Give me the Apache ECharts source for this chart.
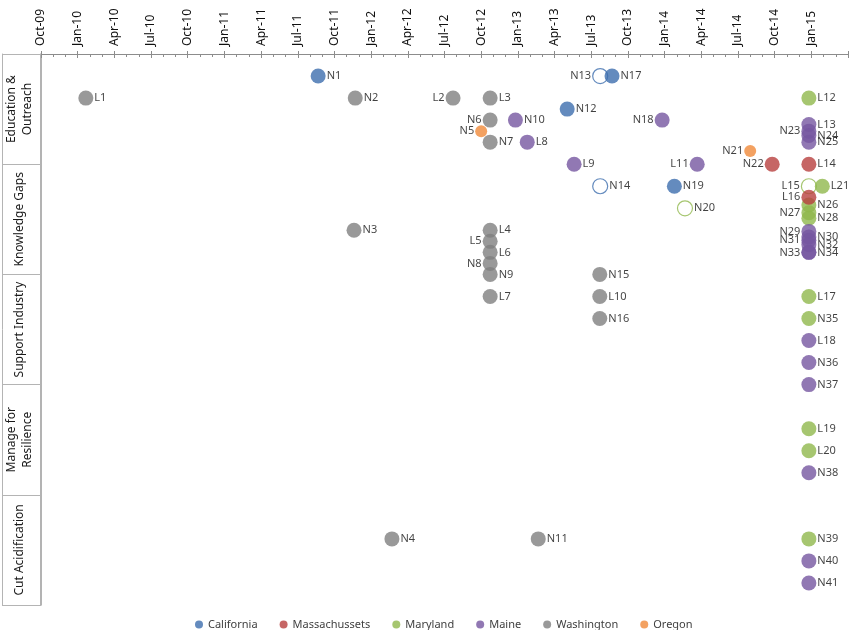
<!DOCTYPE html>
<html>
<head>
<meta charset="utf-8">
<script src="https://cdn.jsdelivr.net/npm/echarts@6/dist/echarts.min.js"></script>
<style>
  html, body { margin: 0; padding: 0; background: #fff; }
  #main { width: 850px; height: 630px; }
</style>
</head>
<body>
<div id="main"></div>
<script>
// categories, top to bottom
const categories = ['Education &\nOutreach', 'Knowledge Gaps', 'Support Industry', 'Manage for\nResilience', 'Cut Acidification'];
const monthNames = ['Jan', 'Feb', 'Mar', 'Apr', 'May', 'Jun', 'Jul', 'Aug', 'Sep', 'Oct', 'Nov', 'Dec'];

// [date, row, label]
const california = [
  ['2011-08-21', 1, 'N1'],
  ['2013-05-02', 2.5, 'N12'],
  ['2013-07-23', 1, 'N13'],
  ['2013-08-22', 1, 'N17'],
  ['2013-07-23', 6, 'N14'],
  ['2014-01-25', 6, 'N19']
];
const massachussets = [
  ['2014-09-25', 5, 'N22'],
  ['2014-12-25', 5, 'L14'],
  ['2014-12-25', 6.5, 'L16']
];
const maryland = [
  ['2014-12-25', 2, 'L12'],
  ['2014-02-21', 7, 'N20'],
  ['2014-12-25', 6, 'L15'],
  ['2015-01-28', 6, 'L21'],
  ['2014-12-25', 6.85, 'N26'],
  ['2014-12-25', 7.2, 'N27'],
  ['2014-12-25', 7.45, 'N28'],
  ['2014-12-25', 11, 'L17'],
  ['2014-12-25', 12, 'N35'],
  ['2014-12-25', 17, 'L19'],
  ['2014-12-25', 18, 'L20'],
  ['2014-12-25', 22, 'N39']
];
const maine = [
  ['2012-12-25', 3, 'N10'],
  ['2013-01-24', 4, 'L8'],
  ['2013-05-19', 5, 'L9'],
  ['2013-12-25', 3, 'N18'],
  ['2014-03-21', 5, 'L11'],
  ['2014-12-25', 3.2, 'L13'],
  ['2014-12-25', 3.5, 'N23'],
  ['2014-12-25', 3.7, 'N24'],
  ['2014-12-25', 4.0, 'N25'],
  ['2014-12-25', 8.05, 'N29'],
  ['2014-12-25', 8.3, 'N30'],
  ['2014-12-25', 8.45, 'N31'],
  ['2014-12-25', 8.65, 'N32'],
  ['2014-12-25', 9.0, 'N33'],
  ['2014-12-25', 9.0, 'N34'],
  ['2014-12-25', 13, 'L18'],
  ['2014-12-25', 14, 'N36'],
  ['2014-12-25', 15, 'N37'],
  ['2014-12-25', 19, 'N38'],
  ['2014-12-25', 23, 'N40'],
  ['2014-12-25', 24, 'N41']
];
const washington = [
  ['2010-01-21', 2, 'L1'],
  ['2011-11-22', 2, 'N2'],
  ['2011-11-19', 8, 'N3'],
  ['2012-02-22', 22, 'N4'],
  ['2012-07-22', 2, 'L2'],
  ['2012-10-23', 2, 'L3'],
  ['2012-10-23', 3, 'N6'],
  ['2012-10-23', 4, 'N7'],
  ['2012-10-23', 8, 'L4'],
  ['2012-10-23', 8.5, 'L5'],
  ['2012-10-23', 9, 'L6'],
  ['2012-10-23', 9.5, 'N8'],
  ['2012-10-23', 10, 'N9'],
  ['2012-10-23', 11, 'L7'],
  ['2013-02-21', 22, 'N11'],
  ['2013-07-22', 10, 'N15'],
  ['2013-07-22', 11, 'L10'],
  ['2013-07-22', 12, 'N16']
];
const oregon = [
  ['2012-10-01', 3.5, 'N5'],
  ['2014-08-01', 4.4, 'N21']
];

// which labels sit on the left, which markers are open
const labelLeft = ['L2', 'N6', 'N5', 'N18', 'L11', 'N13', 'N21', 'N22', 'N23', 'L15', 'L16', 'N27', 'N29', 'N31', 'N33', 'L5', 'N8'];
const hollow = ['N13', 'N14', 'N20', 'L15'];

// months counted from Oct-09
function toMonths(s) {
  const p = s.split('-').map(Number);
  return (p[0] - 2009) * 12 + (p[1] - 10) + (p[2] - 1) / 30;
}

function monthLabel(v) {
  const m = (9 + v) % 12;
  const y = 2009 + Math.floor((9 + v) / 12);
  return monthNames[m] + '-' + String(y).slice(2);
}

const font = 'Noto Sans';

function makeSeries(name, color, rows, size) {
  return {
    name: name,
    type: 'scatter',
    symbolSize: size,
    itemStyle: { color: color },
    label: {
      show: true,
      formatter: p => p.name,
      distance: 1,
      fontSize: 11,
      fontFamily: font,
      color: '#111'
    },
    emphasis: { disabled: true },
    data: rows.map(r => ({
      value: [toMonths(r[0]), r[1]],
      name: r[2],
      itemStyle: hollow.includes(r[2]) ? { color: '#fff', borderColor: color, borderWidth: 1.2 } : undefined,
      label: { position: labelLeft.includes(r[2]) ? 'left' : 'right' }
    }))
  };
}

const chart = echarts.init(document.getElementById('main'));

chart.setOption({
  animation: false,
  textStyle: { fontFamily: font },
  grid: { left: 41, right: 2, top: 54, bottom: 25 },
  legend: {
    data: ['California', 'Massachussets', 'Maryland', 'Maine', 'Washington', 'Oregon'],
    left: 190,
    top: 614,
    icon: 'circle',
    itemWidth: 8,
    itemHeight: 8,
    itemGap: 22,
    textStyle: { fontSize: 11, color: '#404040', fontFamily: font }
  },
  xAxis: [{
    type: 'value',
    position: 'top',
    min: 0,
    max: 66,
    interval: 3,
    axisLine: { show: true, lineStyle: { color: '#8c8c8c' } },
    axisTick: { show: true, inside: true, length: 4, lineStyle: { color: '#8c8c8c' } },
    minorTick: { show: true, splitNumber: 3, length: 3, lineStyle: { color: '#8c8c8c' } },
    splitLine: { show: false },
    axisLabel: {
      rotate: 90,
      margin: 8,
      fontSize: 12,
      color: '#111',
      fontFamily: font,
      showMaxLabel: false,
      formatter: v => monthLabel(v)
    }
  }, {
    type: 'value',
    position: 'top',
    min: 0,
    max: 66,
    interval: 3,
    axisLine: { show: false },
    axisTick: { show: true, length: 3, lineStyle: { color: '#8c8c8c' } },
    axisLabel: { show: false },
    splitLine: { show: false }
  }],
  yAxis: [{
    type: 'value',
    inverse: true,
    min: 0,
    max: 25,
    axisLine: { show: true, lineStyle: { color: '#9a9a9a', width: 1.5 } },
    axisTick: { show: false },
    axisLabel: { show: false },
    splitLine: { show: false }
  }, {
    type: 'category',
    data: categories,
    inverse: true,
    position: 'left',
    axisLine: { show: false },
    axisTick: { show: true, interval: 0, length: 39, lineStyle: { color: '#b4b4b4' } },
    axisLabel: {
      interval: 0,
      rotate: 90,
      margin: 21,
      verticalAlign: 'middle',
      fontSize: 12,
      lineHeight: 16,
      color: '#1a1a1a',
      fontFamily: font
    },
    splitLine: { show: false }
  }, {
    type: 'category',
    data: categories,
    position: 'left',
    offset: 39,
    axisLine: { show: true, lineStyle: { color: '#b4b4b4' } },
    axisTick: { show: false },
    axisLabel: { show: false },
    splitLine: { show: false }
  }],
  series: [
    makeSeries('Washington', '#7f7f7f', washington, 15),
    makeSeries('Oregon', '#f08a3a', oregon, 12),
    makeSeries('Maryland', '#90b84c', maryland, 15),
    makeSeries('Maine', '#7656a0', maine, 15),
    makeSeries('Massachussets', '#b8403f', massachussets, 15),
    makeSeries('California', '#3d6eae', california, 15)
  ]
});
</script>
</body>
</html>
